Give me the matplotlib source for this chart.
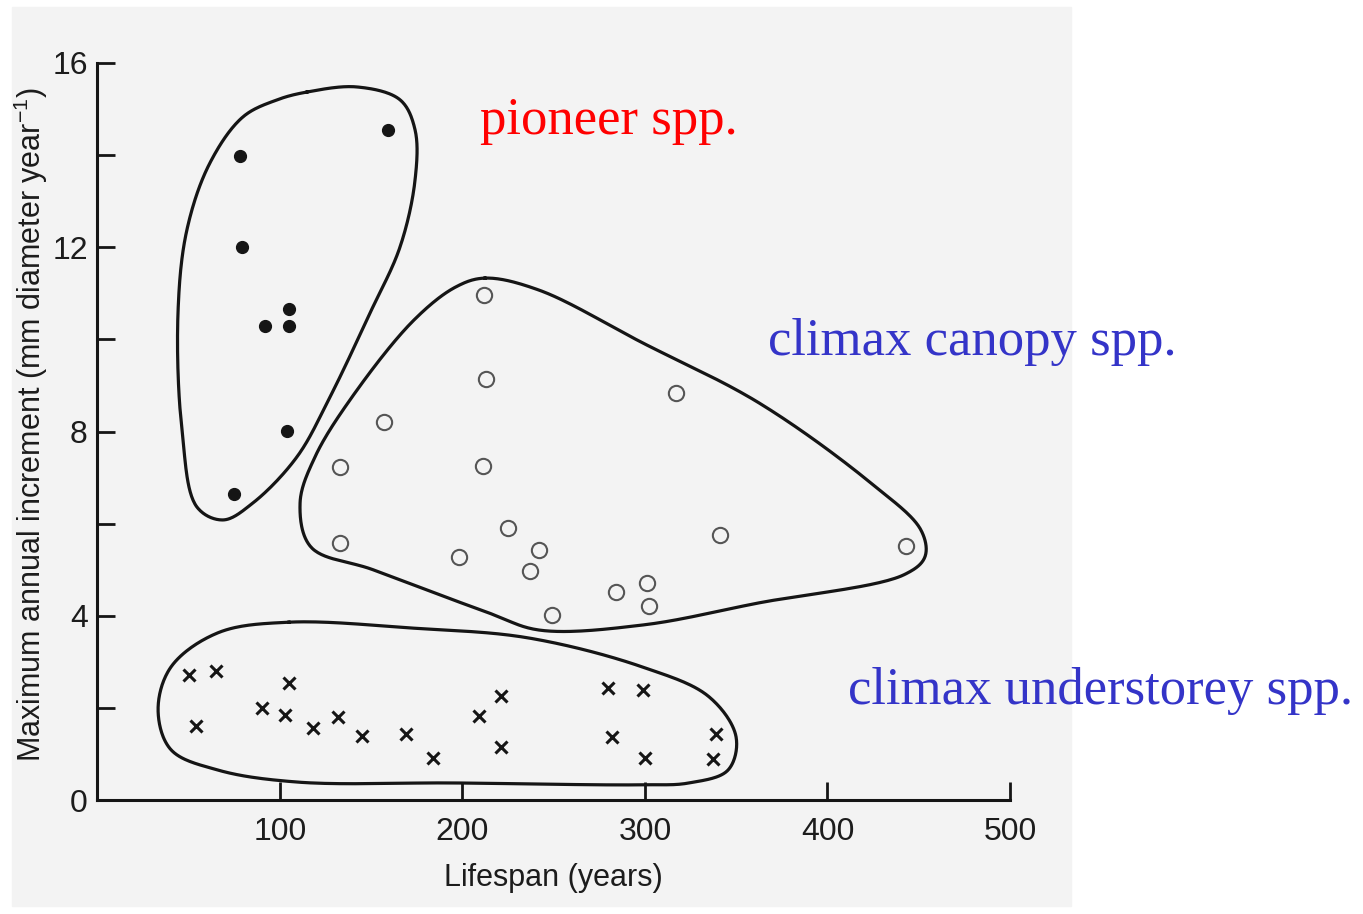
import numpy as np
import matplotlib
matplotlib.use("Agg")
import matplotlib.pyplot as plt
from matplotlib.patches import Rectangle

# --- data: lifespan (years) vs maximum annual diameter increment (mm/yr) ---
pioneer_life = [78, 79, 92, 105, 105, 104, 75, 159]
pioneer_incr = [13.98, 12.0, 10.3, 10.67, 10.28, 8.02, 6.65, 14.54]

canopy_life = [212, 213, 157, 133, 211, 317, 133, 225, 242, 237, 198, 249, 284, 301, 302, 341, 443]
canopy_incr = [10.96, 9.13, 8.2, 7.24, 7.26, 8.83, 5.57, 5.91, 5.43, 4.98, 5.28, 4.02, 4.52, 4.72, 4.22, 5.76, 5.52]

under_life = [50, 65, 54, 90, 105, 103, 118, 132, 145, 169, 184, 209, 221, 221, 280, 299, 282, 300, 339, 337]
under_incr = [2.71, 2.79, 1.61, 2.0, 2.54, 1.84, 1.56, 1.80, 1.39, 1.44, 0.91, 1.82, 2.25, 1.14, 2.44, 2.39, 1.37, 0.91, 1.44, 0.89]

# hand-drawn group outlines (lifespan, increment)
pioneer_outline_x = [114.8, 142.2, 165.8, 174, 174, 165.8, 149.3, 127.4, 109.3, 85.2, 68.8, 54.5, 46.3, 44.1, 49, 61.6, 79.7, 98.4]
pioneer_outline_y = [15.37, 15.48, 15.2, 14.55, 13.46, 12.01, 10.57, 8.75, 7.45, 6.45, 6.08, 6.36, 8.03, 10.57, 12.38, 13.83, 14.83, 15.2]

canopy_outline_x = [212.3, 241.9, 298.9, 362.5, 423.8, 451.2, 453.4, 441.9, 362.5, 298.9, 241.9, 214.5, 150.9, 117, 111, 119.2, 139.5, 173.4, 196.4]
canopy_outline_y = [11.33, 11.07, 9.92, 8.62, 6.88, 5.86, 5.28, 4.89, 4.28, 3.8, 3.69, 4.06, 5.0, 5.49, 6.45, 7.45, 8.75, 10.42, 11.14]

under_outline_x = [104.9, 173.4, 235.9, 298.4, 335.1, 349.9, 345.5, 324.1, 298.4, 195.3, 109.3, 66, 40.3, 33.2, 40.3, 66]
under_outline_y = [3.86, 3.73, 3.52, 2.89, 2.24, 1.37, 0.65, 0.37, 0.33, 0.37, 0.39, 0.65, 1.09, 1.95, 2.89, 3.63]

x_ticks = [100, 200, 300, 400, 500]
y_ticks = [0, 4, 8, 12, 16]
y_minor = [2, 6, 10, 14]


def closed_curve(xs, ys, n=30, alpha=0.5):
    """Closed centripetal Catmull-Rom spline through the outline points."""
    sx, sy = 912 / 500, 737 / 16          # work in (roughly) pixel units
    p = np.column_stack([np.array(xs) * sx, np.array(ys) * sy])
    m = len(p)
    out = []
    for i in range(m):
        P0, P1, P2, P3 = p[i - 1], p[i], p[(i + 1) % m], p[(i + 2) % m]
        t0 = 0.0
        t1 = t0 + np.linalg.norm(P1 - P0) ** alpha
        t2 = t1 + np.linalg.norm(P2 - P1) ** alpha
        t3 = t2 + np.linalg.norm(P3 - P2) ** alpha
        t = np.linspace(t1, t2, n, endpoint=False)[:, None]
        A1 = (t1 - t) / (t1 - t0) * P0 + (t - t0) / (t1 - t0) * P1
        A2 = (t2 - t) / (t2 - t1) * P1 + (t - t1) / (t2 - t1) * P2
        A3 = (t3 - t) / (t3 - t2) * P2 + (t - t2) / (t3 - t2) * P3
        B1 = (t2 - t) / (t2 - t0) * A1 + (t - t0) / (t2 - t0) * A2
        B2 = (t3 - t) / (t3 - t1) * A2 + (t - t1) / (t3 - t1) * A3
        out.append((t2 - t) / (t2 - t1) * B1 + (t - t1) / (t2 - t1) * B2)
    c = np.vstack(out + [p[:1]])
    return c[:, 0] / sx, c[:, 1] / sy


plt.rcParams['font.family'] = ['Liberation Sans', 'DejaVu Sans']
plt.rcParams['mathtext.default'] = 'regular'

W, H = 1363, 914
fig = plt.figure(figsize=(W / 100, H / 100), dpi=100)
fig.patch.set_facecolor('white')
fig.add_artist(Rectangle((12 / W, 1 - 906 / H), (1071 - 12) / W, (906 - 7) / H,
                         transform=fig.transFigure, color='#f3f3f3', zorder=0))

ax = fig.add_axes([97.5 / W, 1 - 800 / H, (1010 - 97.5) / W, (800 - 63) / H])
ax.set_facecolor('none')
ink = '#151515'

for ox, oy in [(pioneer_outline_x, pioneer_outline_y),
               (canopy_outline_x, canopy_outline_y),
               (under_outline_x, under_outline_y)]:
    cx, cy = closed_curve(ox, oy)
    ax.plot(cx, cy, color=ink, lw=2.3, clip_on=False)

ax.plot(pioneer_life, pioneer_incr, 'o', color=ink, ms=8.5, clip_on=False)
ax.plot(canopy_life, canopy_incr, 'o', mfc='none', mec='#555555', mew=1.5, ms=11, clip_on=False)
ax.plot(under_life, under_incr, 'x', color=ink, ms=8, mew=2.2, clip_on=False)

ax.set_xlim(0, 500)
ax.set_ylim(0, 16)
for s in ['top', 'right']:
    ax.spines[s].set_visible(False)
for s in ['left', 'bottom']:
    ax.spines[s].set_linewidth(2.2)
    ax.spines[s].set_color(ink)

ax.set_xticks(x_ticks)
ax.set_yticks(y_ticks)
ax.set_yticks(y_minor, minor=True)
ax.tick_params(axis='both', which='both', direction='in', length=13, width=2, color=ink,
               labelsize=23, labelcolor='#1c1c1c')
ax.tick_params(axis='y', pad=7)
ax.tick_params(axis='x', pad=12)

ax.set_xlabel('Lifespan (years)', fontsize=22, color='#1c1c1c', labelpad=12)
ax.set_ylabel('Maximum annual increment (mm diameter year$^{-1}$)', fontsize=22,
              color='#1c1c1c')
ax.yaxis.set_label_coords(-0.052, 0.51)

serif = ['Liberation Serif', 'DejaVu Serif']
fig.text(480 / W, 1 - 134 / H, 'pioneer spp.', color='#ff0000', fontsize=38, family=serif)
fig.text(768 / W, 1 - 355 / H, 'climax canopy spp.', color='#3434c8', fontsize=38, family=serif)
fig.text(848 / W, 1 - 704 / H, 'climax understorey spp.', color='#3434c8', fontsize=38, family=serif)

fig.savefig('out.png', dpi=100)
